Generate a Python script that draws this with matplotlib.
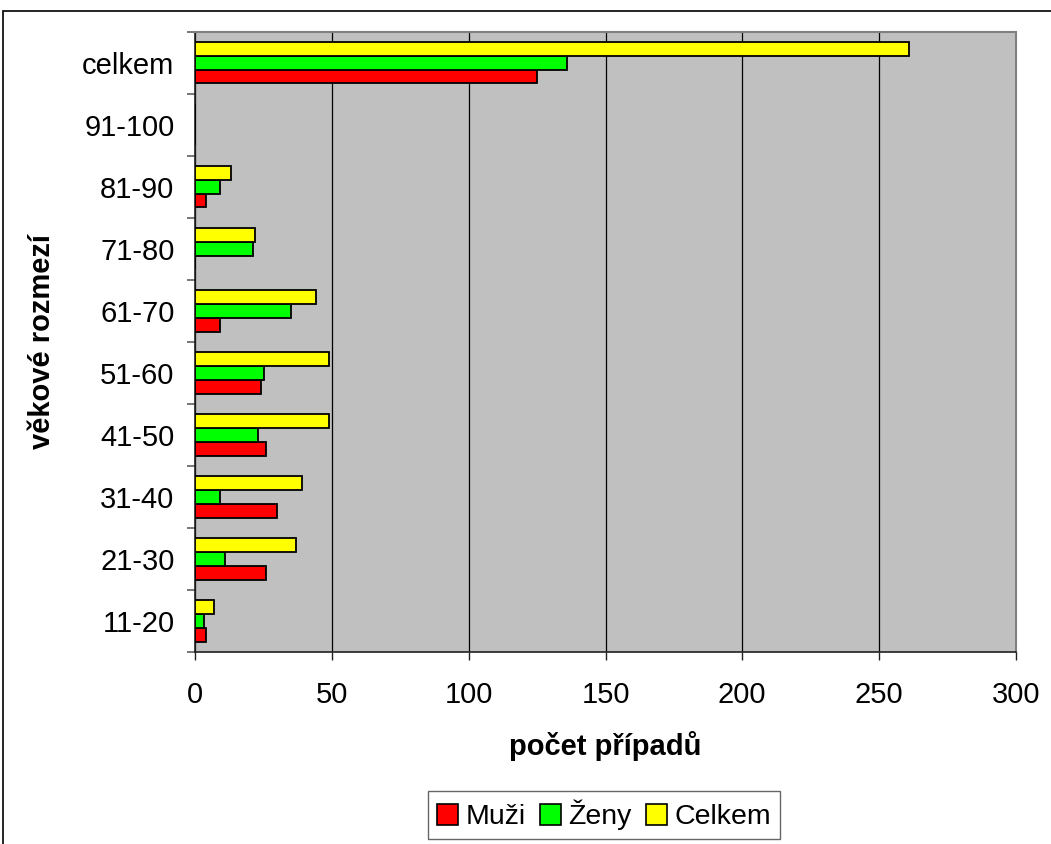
import matplotlib.pyplot as plt
import matplotlib.patches as mpatches
import numpy as np

plt.rcParams['font.family'] = ['Liberation Sans', 'DejaVu Sans']

# age groups, bottom to top
groups = ['11-20', '21-30', '31-40', '41-50', '51-60', '61-70', '71-80', '81-90', '91-100', 'celkem']
muzi = [4, 26, 30, 26, 24, 9, 0, 4, 0, 125]
zeny = [3, 11, 9, 23, 25, 35, 21, 9, 0, 136]
celkem = [7, 37, 39, 49, 49, 44, 22, 13, 0, 261]

series = [('Muži', muzi, '#ff0000'), ('Ženy', zeny, '#00ff00'), ('Celkem', celkem, '#ffff00')]

W, H = 1051, 844
fig = plt.figure(figsize=(W / 100, H / 100), dpi=100)
ax = fig.add_axes([195.3 / W, (H - 652) / H, 820.4 / W, (652 - 31.7) / H])

y = np.arange(len(groups))
bw = 1 / 4.5
for i, (name, vals, col) in enumerate(series):
    ax.barh(y + (i - 1) * bw, vals, height=bw, color=col, edgecolor='black',
            linewidth=1.3, label=name, zorder=3)

ax.set_facecolor('#c0c0c0')
ax.set_xlim(0, 300)
ax.set_ylim(-0.5, len(groups) - 0.5)
ax.set_xticks(np.arange(0, 301, 50))
ax.grid(axis='x', color='black', linewidth=0.9, zorder=1)

ax.set_yticks(y)
ax.set_yticklabels(groups)
ax.set_yticks(np.arange(-0.5, len(groups)), minor=True)
ax.tick_params(axis='y', which='major', length=0, pad=15, labelsize=21)
ax.tick_params(axis='y', which='minor', length=6, width=1.2, color='#606060')
ax.tick_params(axis='x', length=6, width=1, pad=15, labelsize=21, color='#202020')

for s in ['top', 'right']:
    ax.spines[s].set_color('#808080')
    ax.spines[s].set_linewidth(1.5)
for s in ['left', 'bottom']:
    ax.spines[s].set_color('#202020')
    ax.spines[s].set_linewidth(1.2)

ax.set_xlabel('počet případů', fontsize=21, fontweight='bold', labelpad=16)
ax.set_ylabel('věkové rozmezí', fontsize=21, fontweight='bold')
ax.yaxis.set_label_coords(-0.17, 0.5)

handles = [mpatches.Patch(facecolor=c, edgecolor='black', linewidth=1.2, label=n) for n, _, c in series]
leg = fig.legend(handles=handles, loc='center', bbox_to_anchor=(604 / W, (H - 815) / H),
                 ncol=3, fontsize=20.5, frameon=True, fancybox=False, handlelength=0.75,
                 handleheight=0.75, handletextpad=0.25, columnspacing=0.5, borderpad=0.3)
leg.get_frame().set_edgecolor('#404040')
leg.get_frame().set_linewidth(1)

# outer chart border
fig.patches.append(mpatches.Rectangle((3 / W, -0.1), 1.2, (H - 11) / H + 0.1,
                                      transform=fig.transFigure, fill=False,
                                      edgecolor='black', linewidth=1.2))

fig.savefig('out.png', dpi=100)
